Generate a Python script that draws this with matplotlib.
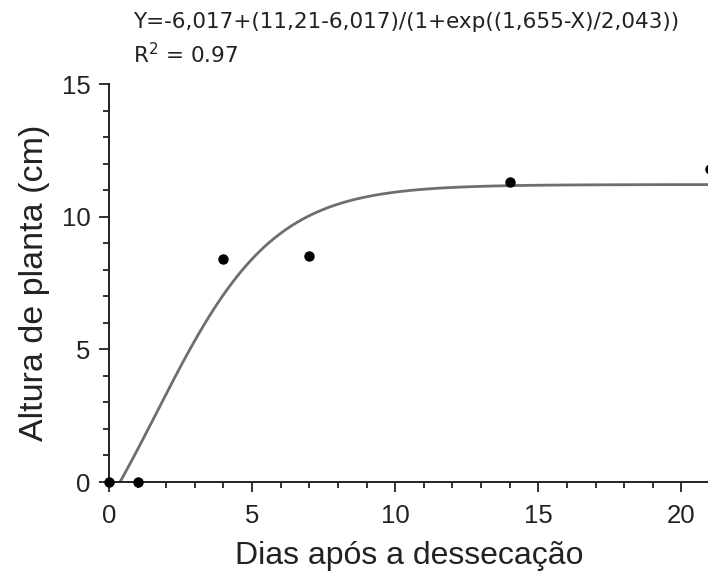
import numpy as np
import matplotlib
matplotlib.use("Agg")
import matplotlib.pyplot as plt
from matplotlib.ticker import MultipleLocator

plt.rcParams['font.family'] = ['Liberation Sans', 'DejaVu Sans']

# observed data
dias = [0, 1, 4, 7, 14, 21]
altura = [0.0, 0.0, 8.4, 8.5, 11.3, 11.8]

# fitted sigmoid parameters (from the equation on the chart)
a_min = -6.017
a_max = 11.21
x0 = 1.655
b = 2.043

fig = plt.figure(figsize=(7.08, 5.77), dpi=100)
ax = fig.add_axes([109/708, 1-482/577, (710-109)/708, (482-84)/577])

xs = np.linspace(0, 21, 400)
ys = a_min + (a_max - a_min) / (1 + np.exp((x0 - xs) / b))
ax.plot(xs, ys, color='#6e6e6e', lw=2.0)
ax.plot(dias, altura, 'o', color='black', ms=6.5, clip_on=False, zorder=5)

ax.set_xlim(0, 21)
ax.set_ylim(0, 15)
for s in ['top', 'right']:
    ax.spines[s].set_visible(False)
for s in ['left', 'bottom']:
    ax.spines[s].set_linewidth(1.4)
    ax.spines[s].set_color('#222222')

ax.xaxis.set_major_locator(MultipleLocator(5))
ax.xaxis.set_minor_locator(MultipleLocator(1))
ax.yaxis.set_major_locator(MultipleLocator(5))
ax.yaxis.set_minor_locator(MultipleLocator(1))
ax.tick_params(which='major', direction='out', length=7.5, width=1.3, pad=6,
               colors='#222222', labelsize=18.5)
ax.tick_params(axis='x', which='major', pad=8.5)
ax.tick_params(which='minor', direction='out', length=4.5, width=1.3, colors='#222222')

ax.set_xlabel('Dias após a dessecação', fontsize=23, labelpad=9, color='#222222')
ax.set_ylabel('Altura de planta (cm)', fontsize=24.5, labelpad=8, color='#222222')

fig.text(133/708, 1-22/577, 'Y=-6,017+(11,21-6,017)/(1+exp((1,655-X)/2,043))',
         fontsize=15.5, va='center', ha='left', color='#222222', family='DejaVu Sans')
fig.text(133/708, 1-55/577, r'R$^2$ = 0.97', fontsize=15.5, va='center', ha='left',
         color='#222222', family='DejaVu Sans')

fig.savefig('out.png', dpi=100)
